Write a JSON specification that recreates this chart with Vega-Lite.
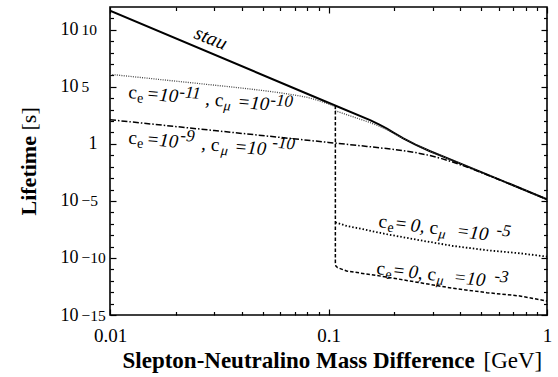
{
  "$schema": "https://vega.github.io/schema/vega-lite/v6.json",
  "width": 437,
  "height": 308,
  "autosize": {"type": "none"},
  "padding": {"left": 110, "top": 7, "right": 11, "bottom": 62},
  "config": {
    "view": {"stroke": "black", "strokeWidth": 1.6},
    "axis": {"grid": false, "domain": false, "labelFont": "Liberation Serif", "titleFont": "Liberation Serif", "labelColor": "black", "titleColor": "black", "tickColor": "black", "tickWidth": 1.2},
    "text": {"font": "Liberation Serif", "color": "black"}
  },
  "datasets": {
    "c": [
      {"s": "stau", "o": 1, "x": 0.01, "y": 4.677e11},
      {"s": "stau", "o": 2, "x": 0.1, "y": 4074},
      {"s": "stau", "o": 3, "x": 0.155, "y": 120.2},
      {"s": "stau", "o": 4, "x": 0.17, "y": 52.48},
      {"s": "stau", "o": 5, "x": 0.185, "y": 21.38},
      {"s": "stau", "o": 6, "x": 0.2, "y": 8.71},
      {"s": "stau", "o": 7, "x": 0.22, "y": 3.02},
      {"s": "stau", "o": 8, "x": 0.25, "y": 0.8511},
      {"s": "stau", "o": 9, "x": 0.29, "y": 0.2399},
      {"s": "stau", "o": 10, "x": 0.37, "y": 0.03548},
      {"s": "stau", "o": 11, "x": 0.5, "y": 0.003311},
      {"s": "stau", "o": 12, "x": 0.7, "y": 0.0002344},
      {"s": "stau", "o": 13, "x": 1, "y": 0.0000138},
      {"s": "L1", "o": 1, "x": 0.01, "y": 1.259e6},
      {"s": "L1", "o": 2, "x": 0.02, "y": 3.162e5},
      {"s": "L1", "o": 3, "x": 0.03, "y": 1.413e5},
      {"s": "L1", "o": 4, "x": 0.04, "y": 7.85e4},
      {"s": "L1", "o": 5, "x": 0.05, "y": 4.786e4},
      {"s": "L1", "o": 6, "x": 0.06, "y": 3.02e4},
      {"s": "L1", "o": 7, "x": 0.07, "y": 1.905e4},
      {"s": "L1", "o": 8, "x": 0.08, "y": 1.202e4},
      {"s": "L1", "o": 9, "x": 0.09, "y": 6310},
      {"s": "L1", "o": 10, "x": 0.1, "y": 3162},
      {"s": "L1", "o": 11, "x": 0.1075, "y": 1862},
      {"s": "L1", "o": 12, "x": 0.1075, "y": 794.3},
      {"s": "L1", "o": 13, "x": 0.12, "y": 389},
      {"s": "L1", "o": 14, "x": 0.13, "y": 229.1},
      {"s": "L1", "o": 15, "x": 0.14, "y": 141.3},
      {"s": "L1", "o": 16, "x": 0.155, "y": 74.13},
      {"s": "L1", "o": 17, "x": 0.17, "y": 36.31},
      {"s": "L1", "o": 18, "x": 0.185, "y": 17.78},
      {"s": "L1", "o": 19, "x": 0.2, "y": 7.943},
      {"s": "L1", "o": 20, "x": 0.22, "y": 2.884},
      {"s": "L1", "o": 21, "x": 0.25, "y": 0.8318},
      {"s": "L1", "o": 22, "x": 0.29, "y": 0.2371},
      {"s": "L1", "o": 23, "x": 0.37, "y": 0.03508},
      {"s": "L1", "o": 24, "x": 0.5, "y": 0.003273},
      {"s": "L1", "o": 25, "x": 0.7, "y": 0.0002317},
      {"s": "L1", "o": 26, "x": 1, "y": 0.00001365},
      {"s": "L2", "o": 1, "x": 0.01, "y": 131.8},
      {"s": "L2", "o": 2, "x": 0.03, "y": 14.79},
      {"s": "L2", "o": 3, "x": 0.1, "y": 1.349},
      {"s": "L2", "o": 4, "x": 0.15, "y": 0.6026},
      {"s": "L2", "o": 5, "x": 0.2, "y": 0.3258},
      {"s": "L2", "o": 6, "x": 0.22, "y": 0.2576},
      {"s": "L2", "o": 7, "x": 0.25, "y": 0.1742},
      {"s": "L2", "o": 8, "x": 0.29, "y": 0.0968},
      {"s": "L2", "o": 9, "x": 0.33, "y": 0.0509},
      {"s": "L2", "o": 10, "x": 0.37, "y": 0.02618},
      {"s": "L2", "o": 11, "x": 0.43, "y": 0.009354},
      {"s": "L2", "o": 12, "x": 0.5, "y": 0.003126},
      {"s": "L2", "o": 13, "x": 0.7, "y": 0.0002323},
      {"s": "L2", "o": 14, "x": 1, "y": 0.0000138},
      {"s": "L3", "o": 1, "x": 0.1075, "y": 1.318e-7},
      {"s": "L3", "o": 2, "x": 0.121, "y": 6.457e-8},
      {"s": "L3", "o": 3, "x": 0.144, "y": 3.311e-8},
      {"s": "L3", "o": 4, "x": 0.1845, "y": 1.202e-8},
      {"s": "L3", "o": 5, "x": 0.262, "y": 3.548e-9},
      {"s": "L3", "o": 6, "x": 0.372, "y": 1.122e-9},
      {"s": "L3", "o": 7, "x": 0.53, "y": 4.786e-10},
      {"s": "L3", "o": 8, "x": 0.751, "y": 2.57e-10},
      {"s": "L3", "o": 9, "x": 1, "y": 1.318e-10},
      {"s": "L4", "o": 1, "x": 0.1075, "y": 2275},
      {"s": "L4", "o": 2, "x": 0.1075, "y": 3.981e-11},
      {"s": "L4", "o": 3, "x": 0.108, "y": 1.995e-11},
      {"s": "L4", "o": 4, "x": 0.11, "y": 1.413e-11},
      {"s": "L4", "o": 5, "x": 0.121, "y": 7.244e-12},
      {"s": "L4", "o": 6, "x": 0.1845, "y": 2.138e-12},
      {"s": "L4", "o": 7, "x": 0.262, "y": 6.761e-13},
      {"s": "L4", "o": 8, "x": 0.372, "y": 2.188e-13},
      {"s": "L4", "o": 9, "x": 0.53, "y": 9.12e-14},
      {"s": "L4", "o": 10, "x": 0.751, "y": 4.677e-14},
      {"s": "L4", "o": 11, "x": 1, "y": 1.698e-14}
    ],
    "t": [
      {"lab": "stau", "role": "st", "t": "stau", "x": 0.02398, "y": 2.0e9},
      {"lab": "L1", "role": "n", "t": "c", "x": 0.01209, "y": 10520},
      {"lab": "L1", "role": "sub", "t": "e", "x": 0.01325, "y": 4508},
      {"lab": "L1", "role": "i", "t": "=10", "x": 0.01462, "y": 7621},
      {"lab": "L1", "role": "sup", "t": "-11", "x": 0.02069, "y": 12880},
      {"lab": "L1", "role": "n", "t": ", c", "x": 0.02721, "y": 2667},
      {"lab": "L1", "role": "subi", "t": "μ", "x": 0.0330, "y": 952.8},
      {"lab": "L1", "role": "i", "t": "=10", "x": 0.03813, "y": 1517},
      {"lab": "L1", "role": "sup", "t": "-10", "x": 0.05399, "y": 2564},
      {"lab": "L2", "role": "n", "t": "c", "x": 0.01209, "y": 1.081},
      {"lab": "L2", "role": "sub", "t": "e", "x": 0.01325, "y": 0.4721},
      {"lab": "L2", "role": "i", "t": "=10", "x": 0.01462, "y": 0.798},
      {"lab": "L2", "role": "sup", "t": "-9", "x": 0.02091, "y": 1.982},
      {"lab": "L2", "role": "n", "t": ", c", "x": 0.02609, "y": 0.3155},
      {"lab": "L2", "role": "subi", "t": "μ", "x": 0.0320, "y": 0.1104},
      {"lab": "L2", "role": "i", "t": "=10", "x": 0.03694, "y": 0.1791},
      {"lab": "L2", "role": "sup", "t": "-10", "x": 0.05513, "y": 0.4819},
      {"lab": "L3", "role": "n", "t": "c", "x": 0.1684, "y": 5.176e-8},
      {"lab": "L3", "role": "sub", "t": "e", "x": 0.1852, "y": 2.042e-8},
      {"lab": "L3", "role": "n", "t": "=", "x": 0.2015, "y": 3.388e-8},
      {"lab": "L3", "role": "i", "t": "0,", "x": 0.236, "y": 2.355e-8},
      {"lab": "L3", "role": "n", "t": "c", "x": 0.2884, "y": 1.449e-8},
      {"lab": "L3", "role": "subi", "t": "μ", "x": 0.317, "y": 5.728e-9},
      {"lab": "L3", "role": "i", "t": "=10", "x": 0.3834, "y": 7.447e-9},
      {"lab": "L3", "role": "sup", "t": "-5", "x": 0.5843, "y": 1.028e-8},
      {"lab": "L4", "role": "n", "t": "c", "x": 0.165, "y": 3.917e-12},
      {"lab": "L4", "role": "sub", "t": "e", "x": 0.1814, "y": 1.581e-12},
      {"lab": "L4", "role": "n", "t": "=", "x": 0.1973, "y": 2.673e-12},
      {"lab": "L4", "role": "i", "t": "0,", "x": 0.2311, "y": 1.897e-12},
      {"lab": "L4", "role": "n", "t": "c", "x": 0.2823, "y": 1.216e-12},
      {"lab": "L4", "role": "subi", "t": "μ", "x": 0.3105, "y": 4.898e-13},
      {"lab": "L4", "role": "i", "t": "=10", "x": 0.3714, "y": 6.637e-13},
      {"lab": "L4", "role": "sup", "t": "-3", "x": 0.572, "y": 9.55e-13}
    ]
  },
  "resolve": {"axis": {"x": "independent", "y": "independent"}},
  "layer": [
    {
      "data": {"name": "c"},
      "transform": [{"filter": "datum.s == 'stau'"}],
      "mark": {"type": "line", "stroke": "black", "strokeWidth": 2, "clip": true},
      "encoding": {
        "x": {"field": "x", "type": "quantitative", "scale": {"type": "log", "domain": [0.01, 1], "nice": false},
          "axis": {"orient": "bottom", "values": [0.01, 0.1, 1], "labelExpr": "datum.value < 0.05 ? '0.01' : datum.value < 0.5 ? '0.1' : '1'", "tickSize": -6, "labelPadding": 17, "labelFontSize": 19, "labelFlush": false,
            "title": "Slepton-Neutralino Mass Difference", "titleFontSize": 23, "titleFontWeight": "bold", "titleX": 12, "titleY": 52, "titleAlign": "left", "titleAnchor": "start", "titleBaseline": "alphabetic"}},
        "y": {"field": "y", "type": "quantitative", "scale": {"type": "log", "domain": [1e-15, 1e12], "nice": false},
          "axis": {"orient": "left", "values": [1e-15, 1e-10, 1e-5, 1, 1e5, 1e10], "labelExpr": "datum.value == 1 ? '1' : '10'", "tickSize": -6, "labelPadding": {"condition": {"test": "datum.value == 1", "value": 19}, "value": 38}, "labelFontSize": 18, "labelBaseline": "middle", "labelFlush": false,
            "title": "Lifetime", "titleFontSize": 22, "titleFontWeight": "bold", "titleAngle": 270, "titleX": -75, "titleY": 208, "titleAlign": "left", "titleAnchor": "start", "titleBaseline": "alphabetic"}},
        "order": {"field": "o", "type": "quantitative"}
      }
    },
    {
      "data": {"name": "c"},
      "transform": [{"filter": "datum.s == 'L1'"}],
      "mark": {"type": "line", "stroke": "#444444", "strokeWidth": 1.3, "strokeDash": [1, 1.3], "clip": true},
      "encoding": {
        "x": {"field": "x", "type": "quantitative", "scale": {"type": "log", "domain": [0.01, 1], "nice": false},
          "axis": {"orient": "bottom", "values": [0.02, 0.03, 0.04, 0.05, 0.06, 0.07, 0.08, 0.09, 0.2, 0.3, 0.4, 0.5, 0.6, 0.7, 0.8, 0.9], "labels": false, "tickSize": -3.5,
            "title": "[GeV]", "titleFontSize": 23, "titleFontWeight": "normal", "titleX": 373, "titleY": 52, "titleAlign": "left", "titleAnchor": "start", "titleBaseline": "alphabetic"}},
        "y": {"field": "y", "type": "quantitative", "scale": {"type": "log", "domain": [1e-15, 1e12], "nice": false},
          "axis": {"orient": "left", "values": [1e-15, 1e-10, 1e-5, 1e5, 1e10], "labelExpr": "replace(toString(round(log(datum.value)/LN10)), '-', '−')", "ticks": false, "labelPadding": 29, "labelAlign": "left", "labelFontSize": 15.5, "labelBaseline": "middle", "labelDy": -7, "labelFlush": false,
            "title": "[s]", "titleFontSize": 22, "titleFontWeight": "normal", "titleAngle": 270, "titleX": -75, "titleY": 123, "titleAlign": "left", "titleAnchor": "start", "titleBaseline": "alphabetic"}},
        "order": {"field": "o", "type": "quantitative"}
      }
    },
    {
      "data": {"name": "c"},
      "transform": [{"filter": "datum.s == 'L2'"}],
      "mark": {"type": "line", "stroke": "black", "strokeWidth": 1.5, "strokeDash": [6, 2, 1.5, 2], "clip": true},
      "encoding": {
        "x": {"field": "x", "type": "quantitative", "scale": {"type": "log", "domain": [0.01, 1], "nice": false},
          "axis": {"orient": "top", "values": [0.01, 0.1, 1], "labels": false, "tickSize": -6, "title": null}},
        "y": {"field": "y", "type": "quantitative", "scale": {"type": "log", "domain": [1e-15, 1e12], "nice": false},
          "axis": {"orient": "left", "values": [1e-14, 1e-13, 1e-12, 1e-11, 1e-9, 1e-8, 1e-7, 1e-6, 1e-4, 1e-3, 0.01, 0.1, 10, 100, 1000, 1e4, 1e6, 1e7, 1e8, 1e9, 1e11], "labels": false, "tickSize": -3.5, "title": null}},
        "order": {"field": "o", "type": "quantitative"}
      }
    },
    {
      "data": {"name": "c"},
      "transform": [{"filter": "datum.s == 'L3'"}],
      "mark": {"type": "line", "stroke": "black", "strokeWidth": 1.8, "strokeDash": [1.5, 2], "clip": true},
      "encoding": {
        "x": {"field": "x", "type": "quantitative", "scale": {"type": "log", "domain": [0.01, 1], "nice": false},
          "axis": {"orient": "top", "values": [0.02, 0.03, 0.04, 0.05, 0.06, 0.07, 0.08, 0.09, 0.2, 0.3, 0.4, 0.5, 0.6, 0.7, 0.8, 0.9], "labels": false, "tickSize": -3.5, "title": null}},
        "y": {"field": "y", "type": "quantitative", "scale": {"type": "log", "domain": [1e-15, 1e12], "nice": false},
          "axis": {"orient": "right", "values": [1e-15, 1e-10, 1e-5, 1, 1e5, 1e10], "labels": false, "tickSize": -6, "title": null}},
        "order": {"field": "o", "type": "quantitative"}
      }
    },
    {
      "data": {"name": "c"},
      "transform": [{"filter": "datum.s == 'L4'"}],
      "mark": {"type": "line", "stroke": "black", "strokeWidth": 1.5, "strokeDash": [3.5, 2], "clip": true},
      "encoding": {
        "x": {"field": "x", "type": "quantitative", "scale": {"type": "log", "domain": [0.01, 1], "nice": false}, "axis": null},
        "y": {"field": "y", "type": "quantitative", "scale": {"type": "log", "domain": [1e-15, 1e12], "nice": false},
          "axis": {"orient": "right", "values": [1e-14, 1e-13, 1e-12, 1e-11, 1e-9, 1e-8, 1e-7, 1e-6, 1e-4, 1e-3, 0.01, 0.1, 10, 100, 1000, 1e4, 1e6, 1e7, 1e8, 1e9, 1e11], "labels": false, "tickSize": -3.5, "title": null}},
        "order": {"field": "o", "type": "quantitative"}
      }
    },
    {
      "data": {"name": "t"},
      "transform": [{"filter": "datum.role == 'n' || datum.role == 'sub'"}],
      "mark": {"type": "text", "align": "left", "baseline": "alphabetic", "font": "Liberation Serif", "fontStyle": "normal", "color": "black"},
      "encoding": {
        "x": {"field": "x", "type": "quantitative", "scale": {"type": "log", "domain": [0.01, 1], "nice": false}, "axis": null},
        "y": {"field": "y", "type": "quantitative", "scale": {"type": "log", "domain": [1e-15, 1e12], "nice": false}, "axis": null},
        "text": {"field": "t"},
        "size": {"field": "role", "type": "nominal", "scale": {"type": "ordinal", "domain": ["n", "sub", "i", "subi", "sup", "st"], "range": [19, 14, 19, 14, 17, 20]}, "legend": null},
        "angle": {"field": "lab", "type": "nominal", "scale": {"type": "ordinal", "domain": ["L1", "L2", "L3", "L4", "stau"], "range": [5, 5, 7, 6.5, 22]}, "legend": null}
      }
    },
    {
      "data": {"name": "t"},
      "transform": [{"filter": "datum.role != 'n' && datum.role != 'sub'"}],
      "mark": {"type": "text", "align": "left", "baseline": "alphabetic", "font": "Liberation Serif", "fontStyle": "italic", "color": "black"},
      "encoding": {
        "x": {"field": "x", "type": "quantitative", "scale": {"type": "log", "domain": [0.01, 1], "nice": false}, "axis": null},
        "y": {"field": "y", "type": "quantitative", "scale": {"type": "log", "domain": [1e-15, 1e12], "nice": false}, "axis": null},
        "text": {"field": "t"},
        "size": {"field": "role", "type": "nominal", "scale": {"type": "ordinal", "domain": ["n", "sub", "i", "subi", "sup", "st"], "range": [19, 14, 19, 14, 17, 20]}, "legend": null},
        "angle": {"field": "lab", "type": "nominal", "scale": {"type": "ordinal", "domain": ["L1", "L2", "L3", "L4", "stau"], "range": [5, 5, 7, 6.5, 22]}, "legend": null}
      }
    }
  ]
}
